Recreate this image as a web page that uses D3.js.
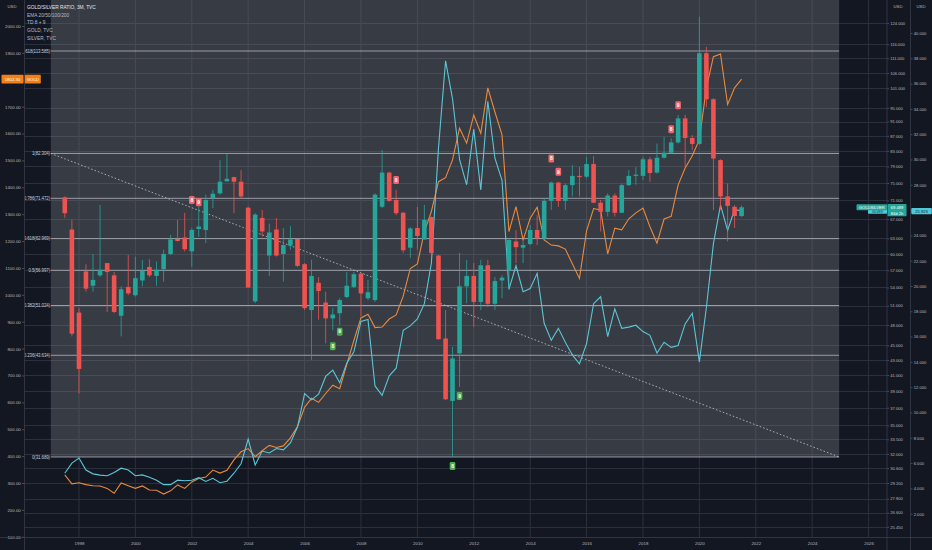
<!DOCTYPE html>
<html>
<head>
<meta charset="utf-8">
<script src="https://cdn.jsdelivr.net/npm/d3@7"></script>
<style>
  html, body { margin: 0; padding: 0; background: #131722; }
  svg { display: block; font-family: "Liberation Sans", Arial, sans-serif; }
</style>
</head>
<body>
<svg id="chart" width="932" height="550"></svg>
<script>
// 3M bars of GOLD/SILVER, first bar is Q3 1997
const firstQuarter = "1997-07-01";

const ratioOpen = [71.7, 64.8, 49.9, 56.8, 54.3, 56.1, 58.3, 56.1, 49.4, 54.1,
  52.7, 55.2, 57.6, 56.0, 57.2, 60.0, 62.9, 63.2, 60.5, 64.9,
  64.7, 71.5, 72.6, 75.4, 76.4, 75.3, 69.4, 51.7, 67.2, 59.7,
  64.8, 60.0, 61.6, 62.9, 58.1, 50.3, 54.8, 51.5, 49.0, 49.8,
  52.4, 54.1, 56.4, 52.2, 51.9, 69.6, 77.5, 71.1, 68.3, 61.2,
  65.1, 62.8, 67.4, 59.7, 46.0, 37.8, 43.9, 54.2, 56.0, 51.6,
  57.9, 51.3, 55.2, 57.0, 62.4, 61.2, 61.9, 64.7, 63.0, 70.9,
  75.1, 70.9, 74.5, 76.7, 76.5, 79.6, 70.5, 68.5, 72.1, 68.3,
  74.5, 76.7, 76.7, 80.8, 77.5, 81.2, 82.5, 85.2, 91.9, 86.4,
  84.8, 112.8, 97.6, 80.6, 71.9, 69.6, 67.6];
const ratioHigh = [71.9, 66.8, 50.6, 58.1, 60.0, 70.0, 58.3, 56.7, 54.2, 59.8,
  59.5, 58.9, 59.0, 58.6, 60.8, 63.7, 66.8, 68.3, 65.1, 69.6,
  72.3, 73.4, 80.6, 82.3, 76.5, 78.1, 69.6, 68.2, 68.9, 66.0,
  67.2, 65.1, 65.5, 63.0, 58.3, 58.9, 55.8, 53.3, 50.6, 52.2,
  56.7, 56.7, 56.5, 55.3, 72.6, 83.2, 77.7, 73.4, 68.5, 65.3,
  69.6, 70.0, 67.5, 59.8, 50.3, 44.8, 60.2, 58.9, 58.3, 58.9,
  58.9, 55.8, 56.1, 63.0, 64.7, 62.4, 65.7, 67.8, 71.5, 75.3,
  75.3, 74.9, 79.3, 78.9, 81.4, 81.6, 71.1, 72.6, 72.6, 74.9,
  78.1, 78.9, 81.4, 81.4, 84.9, 86.7, 86.3, 92.9, 92.9, 87.2,
  126.5, 115.1, 97.9, 80.8, 74.9, 70.0, 69.9];
const ratioLow = [67.2, 46.3, 38.7, 53.3, 53.3, 55.8, 50.0, 49.8, 46.3, 52.7,
  52.5, 54.2, 55.8, 54.3, 55.0, 59.8, 62.4, 60.5, 57.6, 63.3,
  62.1, 69.3, 72.3, 75.3, 68.2, 71.5, 53.9, 51.4, 63.4, 56.0,
  59.5, 55.0, 60.8, 57.6, 50.3, 43.0, 48.8, 45.3, 47.2, 48.0,
  52.2, 53.9, 49.3, 51.9, 51.6, 69.3, 70.7, 67.8, 60.2, 59.2,
  60.8, 62.7, 59.8, 45.8, 37.9, 31.7, 39.5, 51.4, 47.7, 50.3,
  50.8, 50.3, 52.2, 53.6, 58.3, 58.3, 61.7, 61.7, 62.7, 68.9,
  69.6, 68.9, 71.9, 71.9, 76.1, 70.4, 64.4, 67.5, 67.5, 68.2,
  74.3, 74.6, 75.7, 75.3, 77.3, 81.0, 82.3, 84.9, 78.9, 83.2,
  84.6, 95.2, 68.9, 68.9, 62.4, 65.1, 67.4];
const ratioClose = [68.2, 46.7, 41.8, 53.8, 55.3, 57.1, 56.7, 50.0, 53.7, 53.0,
  55.6, 56.9, 56.1, 57.1, 60.0, 62.8, 62.5, 60.9, 64.7, 65.4,
  71.1, 72.5, 75.3, 76.0, 75.3, 71.9, 54.0, 67.9, 64.4, 64.2,
  59.7, 61.7, 62.8, 57.8, 50.6, 56.0, 53.4, 49.0, 49.6, 51.9,
  54.3, 56.3, 53.0, 53.2, 72.3, 77.5, 70.9, 68.2, 60.7, 65.0,
  63.5, 66.8, 60.2, 45.9, 38.0, 43.2, 54.2, 56.0, 51.6, 57.9,
  51.3, 55.1, 55.7, 62.7, 61.3, 61.7, 64.7, 63.0, 70.9, 75.1,
  70.9, 74.5, 76.7, 76.4, 79.6, 70.5, 68.5, 72.1, 68.3, 74.5,
  76.7, 77.0, 80.8, 77.4, 81.2, 82.5, 85.2, 91.9, 86.4, 84.8,
  112.8, 97.6, 81.0, 71.9, 69.8, 67.6, 69.489];

// GOLD, TVC and SILVER, TVC closes on the same bars (USD)
const goldClose = [330, 297, 301, 294, 290, 289, 280, 262, 300, 290,
  280, 289, 274, 273, 259, 271, 293, 280, 304, 317,
  322, 348, 337, 347, 386, 416, 428, 398, 420, 440,
  432, 438, 468, 510, 582, 615, 600, 633, 664, 651,
  740, 830, 914, 928, 878, 880, 910, 925, 995, 1098,
  1115, 1235, 1310, 1421, 1436, 1502, 1620, 1564, 1669, 1601,
  1770, 1680, 1595, 1235, 1328, 1204, 1285, 1326, 1204, 1185,
  1182, 1170, 1116, 1061, 1238, 1321, 1316, 1152, 1248, 1242,
  1283, 1305, 1323, 1253, 1192, 1282, 1292, 1409, 1472, 1517,
  1577, 1770, 1886, 1896, 1708, 1770, 1802.30];
const silverClose = [5.2, 6.0, 6.4, 5.45, 5.15, 5.05, 5.0, 5.25, 5.6, 5.45,
  5.0, 5.07, 4.88, 4.65, 4.3, 4.3, 4.65, 4.6, 4.65, 4.85,
  4.55, 4.8, 4.45, 4.57, 5.2, 5.95, 7.9, 5.85, 6.95, 6.8,
  7.15, 7.05, 7.6, 8.85, 11.5, 11.0, 11.45, 12.85, 13.35, 12.35,
  13.9, 14.8, 17.2, 17.35, 12.1, 11.35, 12.9, 13.5, 16.5, 16.85,
  17.4, 18.6, 21.8, 30.9, 37.8, 34.8, 30.0, 28.0, 32.4, 27.6,
  34.6, 30.1, 28.35, 19.75, 21.6, 19.55, 19.8, 21.0, 17.05, 15.7,
  16.65, 15.55, 14.55, 13.85, 15.45, 18.6, 19.15, 16.0, 18.2, 16.65,
  16.75, 16.9, 16.4, 16.1, 14.7, 15.55, 15.15, 15.3, 17.0, 17.85,
  14.0, 18.3, 23.35, 26.4, 24.4, 26.05, 25.923];

// fib retracement drawing
const fibLevels = ["0", "0.236", "0.382", "0.5", "0.618", "0.786", "1", "1.618"];
const fibValues = [31.689, 43.634, 51.024, 56.997, 62.969, 71.472, 82.304, 113.585];
const fibFrom = "1997-01-01";
const fibTo = "2024-12-15";

// TD 8 + 9 labels (bar index, digit, side, level on the ratio scale)
const tdBars = [18, 19, 47, 69, 70, 86, 87, 38, 39, 55, 56];
const tdText = ["8", "9", "8", "8", "9", "8", "9", "8", "9", "8", "9"];
const tdSide = ["sell", "sell", "sell", "sell", "sell", "sell", "sell", "buy", "buy", "buy", "buy"];
const tdLevel = [71.1, 70.6, 75.7, 81.0, 77.7, 88.8, 95.8, 44.9, 47.0, 30.8, 38.4];

const goldTicks = [100, 200, 300, 400, 500, 600, 700, 800, 900, 1000, 1100, 1200, 1300, 1400, 1500, 1600, 1700, 1800, 1900, 2000];
const ratioTicks = [124, 116, 111, 106, 101, 95, 91, 87, 83, 79, 75, 71, 67, 63, 60, 57, 54, 51, 48, 45, 43, 41, 39, 37, 35, 33.5, 32, 30.6, 29.2, 27.8, 26.6, 25.45];
const silverTicks = [2, 4, 6, 8, 10, 12, 14, 16, 18, 20, 22, 24, 26, 28, 30, 32, 34, 36, 38, 40];
const yearTicks = [1998, 2000, 2002, 2004, 2006, 2008, 2010, 2012, 2014, 2016, 2018, 2020, 2022, 2024, 2026];
const legendLines = ["GOLD/SILVER RATIO, 3M, TVC", "EMA 20/50/100/200", "TD 8 + 9", "GOLD, TVC", "SILVER, TVC"];
const barCountdown = "84d 2h";

const plotL = 24.5, plotR = 887, plotB = 537, silverAxisX = 910.5;
const upColor = "#26a69a", downColor = "#ef5350";
const goldColor = "#ec8a3c", silverColor = "#5cc6d6";

const svg = d3.select("#chart");
const parse = d3.utcParse("%Y-%m-%d");
const start = parse(firstQuarter);
const dates = ratioClose.map((d, i) => d3.utcMonth.offset(start, 3 * i));

const x = d3.scaleUtc()
	.domain([parse("1998-01-01"), parse("2026-01-01")])
	.range([79, 868.6]);
const yRatio = d3.scaleLog().domain([24.641, 133.34]).range([plotB, 0]);
const yGold = d3.scaleLinear().domain([300, 2000]).range([483, 26]);
const ySilver = d3.scaleLinear().domain([2, 40]).range([513.7, 33]);

svg.append("rect")
	.attr("width", 932).attr("height", 550)
	.style("fill", "#131722");

svg.append("clipPath").attr("id", "plotclip")
	.append("rect")
	.attr("x", plotL).attr("y", 0)
	.attr("width", plotR - plotL).attr("height", plotB);

const plot = svg.append("g").attr("clip-path", "url(#plotclip)");

function DrawGrid() {
	const grid = plot.append("g");
	grid.selectAll(".hgrid")
		.data(ratioTicks)
		.join("line")
		.attr("x1", plotL).attr("x2", plotR)
		.attr("y1", d => Math.round(yRatio(d)) + 0.5)
		.attr("y2", d => Math.round(yRatio(d)) + 0.5)
		.style("stroke", "#2c303c")
		.style("stroke-width", 1);
	grid.selectAll(".vgrid")
		.data(yearTicks)
		.join("line")
		.attr("x1", d => x(parse(d + "-01-01")))
		.attr("x2", d => x(parse(d + "-01-01")))
		.attr("y1", 0).attr("y2", plotB)
		.style("stroke", "#2c303c")
		.style("stroke-width", 1);
}

function DrawFib() {
	const fib = plot.append("g");
	const fx0 = x(parse(fibFrom));
	const fx1 = x(parse(fibTo));

	fib.append("rect")
		.attr("x", fx0).attr("y", 0)
		.attr("width", fx1 - fx0)
		.attr("height", yRatio(fibValues[0]))
		.style("fill", "rgba(140,143,150,0.30)");

	fib.selectAll(".fibline")
		.data(fibValues)
		.join("line")
		.attr("x1", fx0).attr("x2", fx1)
		.attr("y1", d => yRatio(d)).attr("y2", d => yRatio(d))
		.style("stroke", "#b9bcc4")
		.style("stroke-opacity", 0.85)
		.style("stroke-width", 0.9);

	// labels sit left of the box, the left part is cut by the price scale
	fib.selectAll(".fiblabel")
		.data(fibValues)
		.join("text")
		.attr("x", fx0 - 0.8)
		.attr("y", d => yRatio(d))
		.attr("dy", "0.35em")
		.attr("text-anchor", "end")
		.text((d, i) => `${fibLevels[i]}(${d.toFixed(3)})`)
		.style("fill", "#c9ccd3")
		.style("font-size", "4.45px")
		.style("letter-spacing", "-0.1px");

	// dashed trend line from level 1 to level 0
	fib.append("line")
		.attr("x1", fx0).attr("y1", yRatio(fibValues[6]))
		.attr("x2", fx1).attr("y2", yRatio(fibValues[0]))
		.style("stroke", "#c3c6cd")
		.style("stroke-width", 0.8)
		.style("stroke-dasharray", "1.6,2");
}

function DrawCompareLines() {
	const goldLine = d3.line()
		.x((d, i) => x(dates[i]))
		.y(d => yGold(d));
	const silverLine = d3.line()
		.x((d, i) => x(dates[i]))
		.y(d => ySilver(d));

	plot.append("path")
		.attr("d", goldLine(goldClose))
		.style("fill", "none")
		.style("stroke", goldColor)
		.style("stroke-width", 1.1);
	plot.append("path")
		.attr("d", silverLine(silverClose))
		.style("fill", "none")
		.style("stroke", silverColor)
		.style("stroke-width", 1.1);
}

function DrawCandles() {
	const bw = 4.6;
	const candles = plot.append("g")
		.selectAll("g")
		.data(ratioClose)
		.join("g");

	candles.append("line")
		.attr("x1", (d, i) => x(dates[i]))
		.attr("x2", (d, i) => x(dates[i]))
		.attr("y1", (d, i) => yRatio(ratioHigh[i]))
		.attr("y2", (d, i) => yRatio(ratioLow[i]))
		.style("stroke", (d, i) => d >= ratioOpen[i] ? upColor : downColor)
		.style("stroke-width", 0.8);

	candles.append("rect")
		.attr("x", (d, i) => x(dates[i]) - bw / 2)
		.attr("y", (d, i) => yRatio(Math.max(d, ratioOpen[i])))
		.attr("width", bw)
		.attr("height", (d, i) => Math.max(0.9, Math.abs(yRatio(d) - yRatio(ratioOpen[i]))))
		.style("fill", (d, i) => d >= ratioOpen[i] ? upColor : downColor);
}

function DrawTDLabels() {
	const td = plot.append("g")
		.selectAll("g")
		.data(tdBars)
		.join("g")
		.attr("transform", (d, i) => `translate(${x(dates[d])},${yRatio(tdLevel[i])})`);

	td.append("rect")
		.attr("x", -2.8).attr("y", -4)
		.attr("width", 5.6).attr("height", 8)
		.attr("rx", 1.3)
		.style("fill", (d, i) => tdSide[i] === "sell" ? "#f0676b" : "#4caf50");

	td.append("text")
		.attr("y", 0)
		.attr("dy", "0.35em")
		.attr("text-anchor", "middle")
		.text((d, i) => tdText[i])
		.style("fill", "#ffffff")
		.style("font-size", "5px")
		.style("font-weight", "bold");
}

function styleAxis(g, size) {
	g.select(".domain").remove();
	g.selectAll(".tick line").style("stroke", "#4a4e59");
	g.selectAll(".tick text")
		.style("fill", "#b4b7bf")
		.style("font-size", size + "px")
		.style("font-family", "\"Liberation Sans\", Arial, sans-serif");
}

function DrawAxes() {
	svg.append("g")
		.attr("transform", `translate(${plotL},0)`)
		.call(d3.axisLeft(yGold).tickValues(goldTicks).tickFormat(d3.format(".2f")).tickSize(2.5).tickPadding(1.2))
		.call(g => styleAxis(g, 4.4));

	svg.append("g")
		.attr("transform", `translate(${plotR},0)`)
		.call(d3.axisRight(yRatio).tickValues(ratioTicks).tickFormat(d3.format(".3f")).tickSize(2).tickPadding(1.2))
		.call(g => styleAxis(g, 4.1));

	svg.append("g")
		.attr("transform", `translate(${silverAxisX},0)`)
		.call(d3.axisRight(ySilver).tickValues(silverTicks).tickFormat(d3.format(".3f")).tickSize(2).tickPadding(1.2))
		.call(g => styleAxis(g, 4.1));

	svg.append("g")
		.attr("transform", `translate(0,${plotB})`)
		.call(d3.axisBottom(x).tickValues(yearTicks.map(d => parse(d + "-01-01"))).tickFormat(d3.utcFormat("%Y")).tickSize(0).tickPadding(5))
		.call(g => styleAxis(g, 4.4));

	// pane separators
	const sep = [[plotL, 0, plotL, 550], [plotR, 0, plotR, 550], [silverAxisX, 0, silverAxisX, 550], [0, plotB + 0.5, 932, plotB + 0.5]];
	svg.selectAll(".sep")
		.data(sep)
		.join("line")
		.attr("x1", d => d[0]).attr("y1", d => d[1])
		.attr("x2", d => d[2]).attr("y2", d => d[3])
		.style("stroke", "#3a3e4a")
		.style("stroke-width", 0.8);

	[[12, "USD"], [898, "USD"], [921, "USD"]].forEach(([ux, t]) => {
		svg.append("text")
			.attr("x", ux).attr("y", 7.5)
			.attr("text-anchor", "middle")
			.text(t)
			.style("fill", "#b4b7bf")
			.style("font-size", "4.3px");
	});
}

function DrawLegend() {
	svg.append("g")
		.selectAll("text")
		.data(legendLines)
		.join("text")
		.attr("x", 27)
		.attr("y", (d, i) => 9 + i * 7.7)
		.text(d => d)
		.style("fill", (d, i) => i === 0 ? "#e3e6eb" : "#b8bbc3")
		.style("font-size", "4.8px");
}

function badge(xLeft, width, yc, h, fill, label, color, size) {
	svg.append("rect")
		.attr("x", xLeft).attr("y", yc - h / 2)
		.attr("width", width).attr("height", h)
		.attr("rx", 0.8)
		.style("fill", fill);
	svg.append("text")
		.attr("x", xLeft + width / 2).attr("y", yc)
		.attr("dy", "0.35em")
		.attr("text-anchor", "middle")
		.text(label)
		.style("fill", color)
		.style("font-size", size + "px");
}

function DrawBadges() {
	const last = ratioClose.length - 1;
	const gy = yGold(goldClose[last]);
	const ry = yRatio(ratioClose[last]);
	const sy = ySilver(silverClose[last]);

	badge(1.5, 22, gy, 8.6, "#f57f17", d3.format(".2f")(goldClose[last]), "#ffffff", 4.3);
	badge(plotL + 0.3, 16, gy, 8.6, "#f57f17", "GOLD", "#ffffff", 4.3);

	badge(868, 19, sy + 0.4, 4.6, "#4dc9dc", "SILVER", "#0e3d44", 3.2);
	badge(856.5, 30.5, ry, 6.2, upColor, "GOLDSILVER", "#ffffff", 4.1);

	svg.append("rect")
		.attr("x", plotR + 0.5).attr("y", ry - 3.2)
		.attr("width", 19).attr("height", 12.2)
		.attr("rx", 0.8)
		.style("fill", upColor);
	svg.append("text")
		.attr("x", plotR + 10).attr("y", ry)
		.attr("dy", "0.35em").attr("text-anchor", "middle")
		.text(d3.format(".3f")(ratioClose[last]))
		.style("fill", "#ffffff").style("font-size", "4.1px");
	svg.append("text")
		.attr("x", plotR + 10).attr("y", ry + 6)
		.attr("dy", "0.35em").attr("text-anchor", "middle")
		.text(barCountdown)
		.style("fill", "#ffffff").style("font-size", "4.1px");

	badge(silverAxisX + 0.8, 20.5, sy, 6.2, "#4dc9dc", d3.format(".3f")(silverClose[last]), "#131722", 4.1);
}

DrawGrid();
DrawFib();
DrawCompareLines();
DrawCandles();
DrawTDLabels();
DrawAxes();
DrawLegend();
DrawBadges();
</script>
</body>
</html>
